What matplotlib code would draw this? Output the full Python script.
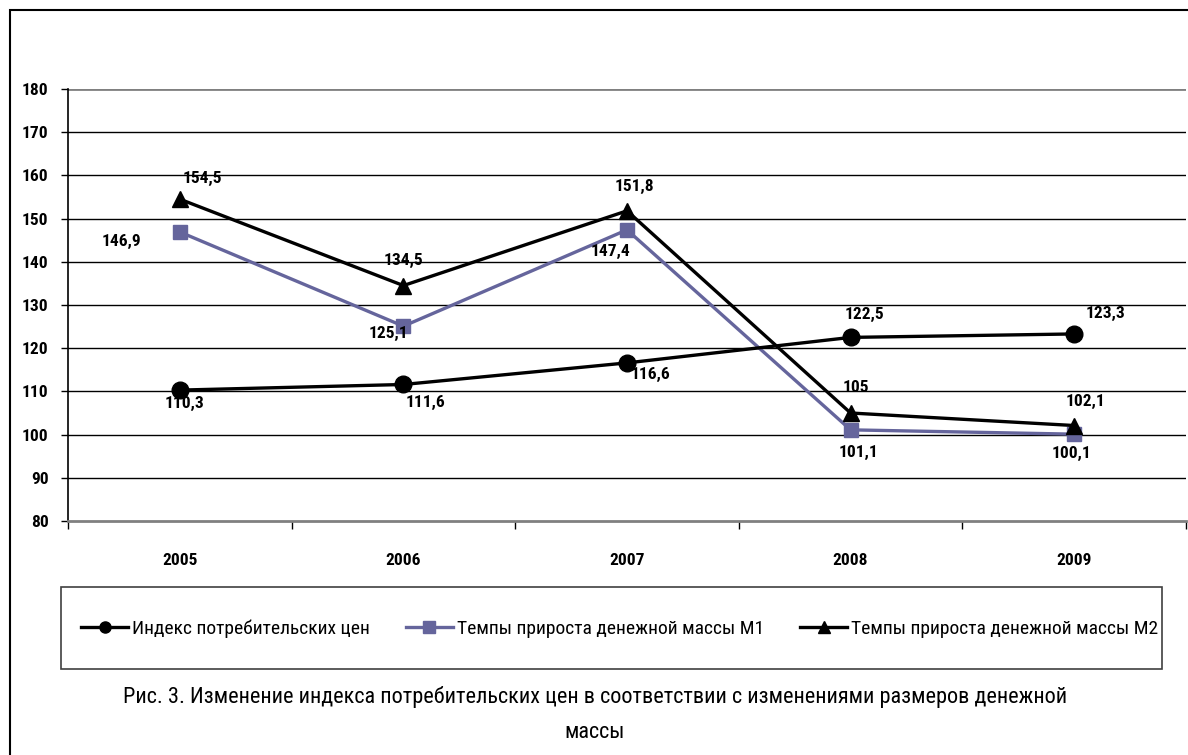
import matplotlib.pyplot as plt
from matplotlib.patches import Rectangle
from matplotlib.lines import Line2D

plt.rcParams['font.family'] = ['Roboto Condensed', 'DejaVu Sans']

# Data
years = ['2005', '2006', '2007', '2008', '2009']
cpi = [110.3, 111.6, 116.6, 122.5, 123.3]
m1 = [146.9, 125.1, 147.4, 101.1, 100.1]
m2 = [154.5, 134.5, 151.8, 105, 102.1]

names = ['Индекс потребительских цен',
         'Темпы прироста денежной массы М1',
         'Темпы прироста денежной массы М2']
caption1 = 'Рис. 3. Изменение индекса потребительских цен в соответствии с изменениями размеров денежной'
caption2 = 'массы'

# label offsets (pixels) for each point of each series
off_cpi = [(5, -13), (22, -18), (24, -12), (14, 23), (31, 20)]
off_m1 = [(-58, -10), (-15, -7), (-16, -22), (8, -23), (-3, -19)]
off_m2 = [(23, 21), (0, 25), (7, 24), (5, 25), (11, 24)]

blue = '#65659c'

fig = plt.figure(figsize=(11.88, 7.55), dpi=100)
W, H = 1188, 755
ax = fig.add_axes([68 / W, 1 - 521 / H, (1186 - 68) / W, (521 - 89) / H])

x = list(range(len(years)))
ax.plot(x, cpi, color='black', lw=2.4, marker='o', ms=12, zorder=4)
ax.plot(x, m1, color=blue, lw=2.4, marker='s', ms=10.5, zorder=3)
ax.plot(x, m2, color='black', lw=2.4, marker='^', ms=12, zorder=5)


def fmt(v):
    s = ('%.1f' % v).replace('.', ',')
    return s[:-2] if s.endswith(',0') else s


for vals, offs in [(cpi, off_cpi), (m1, off_m1), (m2, off_m2)]:
    for xi, v, (dx, dy) in zip(x, vals, offs):
        ax.annotate(fmt(v), (xi, v), xytext=(dx * 0.72, dy * 0.72),
                    textcoords='offset points', ha='center', va='center',
                    fontsize=12.5, fontweight='bold', zorder=6)

ax.set_xlim(-0.5, 4.5)
ax.set_ylim(80, 180)
ax.set_yticks(range(80, 181, 10))
ax.set_xticks(x)
ax.set_xticklabels(years, fontsize=12.5, fontweight='bold')
ax.set_xticks([i + 0.5 for i in range(-1, 5)], minor=True)
ax.tick_params(axis='x', which='major', length=0, pad=23)
ax.tick_params(axis='x', which='minor', length=6, width=1, direction='out')
ax.tick_params(axis='y', length=5, width=1, pad=9, labelsize=12.5)
for lab in ax.get_yticklabels():
    lab.set_fontweight('bold')

for yv in range(90, 180, 10):
    ax.axhline(yv, color='black', lw=1, zorder=1)
ax.axhline(180, color='#808080', lw=2, zorder=1)

ax.spines['top'].set_visible(False)
ax.spines['right'].set_visible(False)
ax.spines['bottom'].set_color('#808080')
ax.spines['bottom'].set_linewidth(2)
ax.spines['left'].set_linewidth(1.2)

# outer frame
fig.patches.append(Rectangle((10 / W, -0.02), 1.05, 1 - 10 / H + 0.02,
                             transform=fig.transFigure, fill=False,
                             edgecolor='black', lw=1.5))

# legend box
fig.patches.append(Rectangle((61 / W, 1 - 669 / H), (1162 - 61) / W, 82 / H,
                             transform=fig.transFigure, fill=False,
                             edgecolor='#404040', lw=1.2))
handles = [Line2D([], [], color='black', lw=2.4, marker='o', ms=8),
           Line2D([], [], color=blue, lw=2.4, marker='s', ms=8),
           Line2D([], [], color='black', lw=2.4, marker='^', ms=8)]
fs_leg = 14
px = fs_leg * 100 / 72
fig.legend(handles, names, loc='center left', bbox_to_anchor=(81 / W, 1 - 629 / H),
           ncol=3, frameon=False, fontsize=fs_leg, handlelength=47 / px,
           handletextpad=4 / px, columnspacing=36 / px, borderpad=0,
           borderaxespad=0)

fig.text(595 / W, 1 - 697 / H, caption1, ha='center', va='center', fontsize=16)
fig.text(595 / W, 1 - 733 / H, caption2, ha='center', va='center', fontsize=16)

fig.savefig('out.png', dpi=100)
